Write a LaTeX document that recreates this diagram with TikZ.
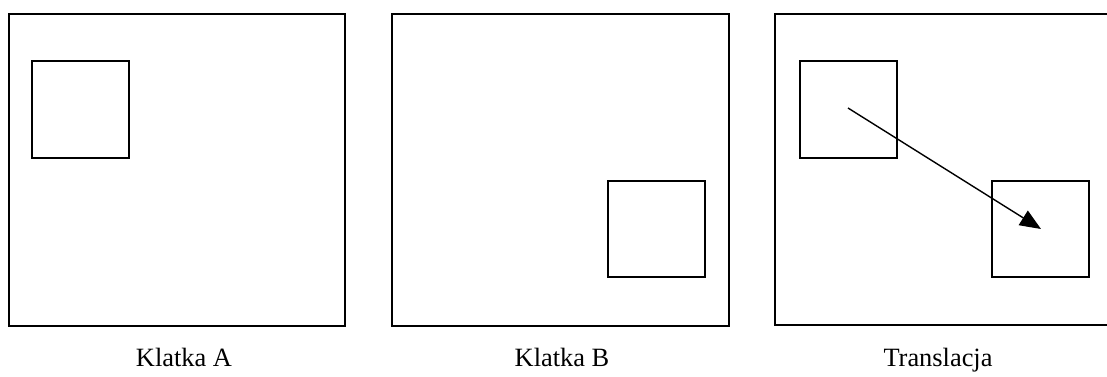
\documentclass[tikz,border=0pt]{standalone}
\usepackage{fontspec}
\setmainfont{Liberation Serif}
\usetikzlibrary{arrows.meta}

\begin{document}
\begin{tikzpicture}[x=1pt,y=-1pt,
  frame/.style={line width=1.6pt},
  box/.style={line width=1.6pt},
  caption/.style={anchor=base,font=\fontsize{26.4}{30}\selectfont}]
\useasboundingbox (0,0) rectangle (1107,376);
%frames
\coordinate (A1) at (9,14);
\coordinate (A2) at (345,326);
\coordinate (B1) at (392,14);
\coordinate (B2) at (729,326);
\draw[frame] (A1) rectangle (A2);
\draw[frame] (B1) rectangle (B2);
\draw[frame] (1107,14) -- (775,14) -- (775,325) -- (1107,325);

%boxes
\draw[box] (32,61) rectangle (129,158);
\draw[box] (608,181) rectangle (705,277);
\draw[box] (800,61) rectangle (897,158);
\draw[box] (992,181) rectangle (1089,277);

%translation
\coordinate (start) at (848,108);
\coordinate (end) at (1041,229);
\draw[-{Triangle[length=21pt,width=17pt]}, line width=1.4pt] (start) -- (end);

\node[caption] (capA) at (184,366) {Klatka A};
\node[caption] (capB) at (562,366) {Klatka B};
\node[caption] (capC) at (938,366) {Translacja};
\end{tikzpicture}
\end{document}
